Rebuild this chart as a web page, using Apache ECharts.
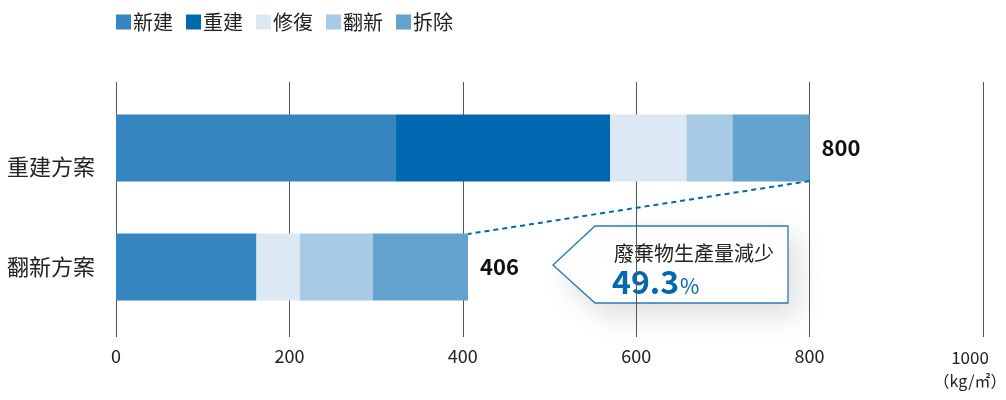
<!DOCTYPE html>
<html>
<head>
<meta charset="utf-8">
<script src="https://cdn.jsdelivr.net/npm/echarts@6/dist/echarts.min.js"></script>
<style>
  html, body { margin: 0; padding: 0; background: #fff; }
  #chart { width: 1006px; height: 400px; }
</style>
</head>
<body>
<div id="chart"></div>
<script>
// ===== 資料 =====
const plans     = ['重建方案', '翻新方案'];
const segNames  = ['新建', '重建', '修復', '翻新', '拆除'];
const shinken   = [323, 162];
const juken     = [247, 0];
const shufuku   = [88, 50];
const honshin   = [53, 84];
const tearDown  = [89, 110];
const xTicks    = [0, 200, 400, 600, 800, 1000];
const unitLabel = '（kg/㎡）';

const segValues = [shinken, juken, shufuku, honshin, tearDown];
const segColors = ['#3585c1', '#0068b0', '#dce8f3', '#a8cae4', '#64a3ce'];
const totals = plans.map((_, i) => segValues.reduce((s, arr) => s + arr[i], 0));
const cutPct = ((totals[0] - totals[1]) / totals[0] * 100).toFixed(1);

const FONT = '"Noto Sans CJK TC", "Noto Sans", sans-serif';
const chart = echarts.init(document.getElementById('chart'));

const barSeries = segNames.map((name, k) => ({
    name, type: 'bar', stack: 'total',
    xAxisIndex: 1, yAxisIndex: 1,
    barWidth: 67,
    itemStyle: { color: segColors[k] },
    data: segValues[k],
    label: k === segNames.length - 1 ? {
        show: true, position: 'right', distance: 12,
        formatter: p => totals[p.dataIndex],
        color: '#111', fontSize: 22, fontWeight: 'bold', fontFamily: FONT
    } : { show: false }
}));

chart.setOption({
    backgroundColor: '#fff',
    animation: false,
    textStyle: { fontFamily: FONT },
    legend: {
        data: segNames, left: 111, top: 7,
        itemWidth: 15, itemHeight: 15, itemGap: 13, icon: 'rect',
        textStyle: { color: '#222', fontSize: 20, fontFamily: FONT, padding: [0, 0, 0, -3] }
    },
    grid: [
        { left: 116, right: 23, top: 82, height: 255, outerBoundsMode: 'none' },   // 格線・軸標籤
        { left: 116, right: 23, top: 148, height: 119, outerBoundsMode: 'none' },  // 長條
        { left: 116, right: 23, top: 181, height: 53, outerBoundsMode: 'none' }    // 虛線
    ],
    xAxis: [
        { gridIndex: 0, type: 'value', min: 0, max: 1000, interval: 200,
          axisLine: { show: false }, axisTick: { show: false },
          splitLine: { lineStyle: { color: '#555', width: 1 } },
          axisLabel: { color: '#222', fontSize: 18, margin: 10, fontFamily: FONT,
              formatter: v => v === xTicks[xTicks.length - 1] ? '{a|' + v + '}\n{u|' + unitLabel + '}' : v,
              rich: {
                  a: { fontSize: 17, color: '#222', lineHeight: 22, padding: [0, 26, 0, 0], fontFamily: FONT },
                  u: { fontSize: 16, color: '#222', lineHeight: 24, padding: [0, 26, 0, 0], fontFamily: FONT }
              } } },
        { gridIndex: 1, type: 'value', min: 0, max: 1000, show: false },
        { gridIndex: 2, type: 'value', min: 0, max: 1000, show: false }
    ],
    yAxis: [
        { gridIndex: 0, type: 'value', show: false },
        { gridIndex: 1, type: 'category', data: plans, inverse: true, boundaryGap: false,
          axisLine: { show: false }, axisTick: { show: false }, splitLine: { show: false },
          axisLabel: { color: '#222', fontSize: 22, margin: 21, fontFamily: FONT,
              formatter: (v, i) => i === 0 ? '{low|' + v + '}' : v,
              rich: { low: { fontSize: 22, color: '#222', padding: [38, 0, 0, 0], fontFamily: FONT } } } },
        { gridIndex: 2, type: 'value', min: 0, max: 1, show: false }
    ],
    series: barSeries.concat([{
        type: 'line', xAxisIndex: 2, yAxisIndex: 2, symbol: 'none', silent: true,
        lineStyle: { color: '#0068b0', width: 2, type: [5, 4] },
        data: [[totals[0], 1], [totals[1], 0]]
    }]),
    graphic: [{
        type: 'group', silent: true,
        children: [
            { type: 'polygon',
              shape: { points: [[553, 265], [595, 226], [788, 226], [788, 303], [595, 303]] },
              style: { fill: '#fff', stroke: '#2a78ba', lineWidth: 1.3,
                       shadowBlur: 30, shadowOffsetX: 10, shadowOffsetY: 12, shadowColor: 'rgba(0,0,0,0.13)' } },
            { type: 'text', x: 614, y: 253,
              style: { text: '廢棄物生產量減少', fill: '#222', fontSize: 20, fontFamily: FONT, verticalAlign: 'middle' } },
            { type: 'text', x: 612, y: 282,
              style: { text: '{n|' + cutPct + '}{p|%}', fontFamily: FONT, verticalAlign: 'middle',
                       rich: { n: { fontSize: 32, fontWeight: 'bold', fill: '#0068b0', fontFamily: FONT },
                               p: { fontSize: 21, fill: '#0068b0', fontFamily: FONT, padding: [8, 0, 0, 1] } } } }
        ]
    }]
});
</script>
</body>
</html>
